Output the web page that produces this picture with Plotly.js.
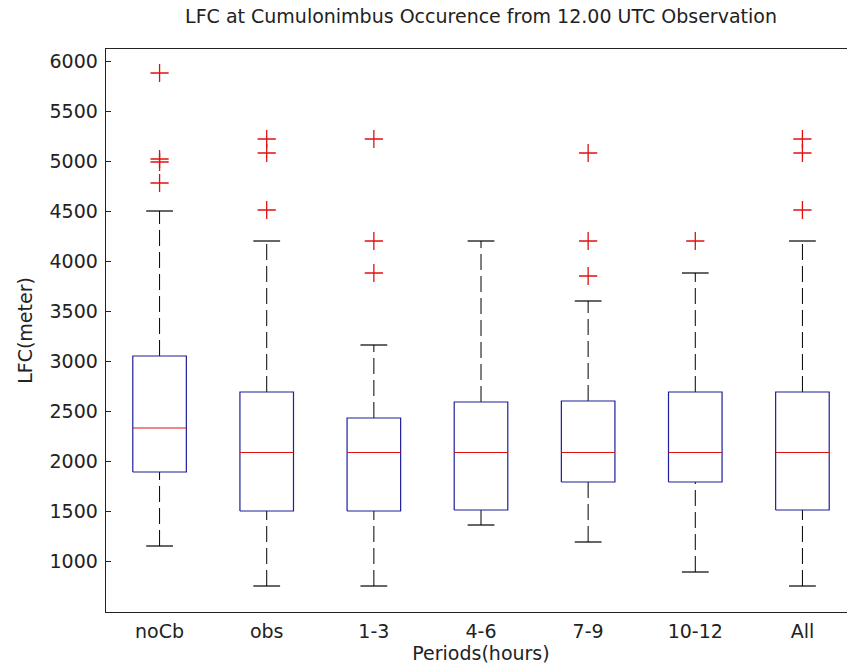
<!DOCTYPE html>
<html>
<head>
<meta charset="utf-8">
<script src="https://cdn.plot.ly/plotly-3.0.1.min.js"></script>
<style>
html,body{margin:0;padding:0;overflow:hidden;background:#fff;width:847px;height:670px;}
#chart{width:870px;height:670px;}
</style>
</head>
<body>
<div id="chart"></div>
<script>
const categories = ['noCb','obs','1-3','4-6','7-9','10-12','All'];
const lowerWhisker = [1150, 750, 750, 1360, 1190, 890, 750];
const q1 = [1890, 1500, 1500, 1510, 1790, 1790, 1510];
const medians = [2330, 2085, 2085, 2085, 2085, 2085, 2085];
const q3 = [3050, 2690, 2430, 2590, 2600, 2690, 2690];
const upperWhisker = [4500, 4200, 3160, 4200, 3600, 3880, 4200];
const outliers = [
  [5880, 5020, 4990, 4780],
  [5220, 5080, 4510],
  [5220, 4200, 3880],
  [],
  [5080, 4200, 3850],
  [4200],
  [5220, 5080, 4510]
];
const yTicks = [1000,1500,2000,2500,3000,3500,4000,4500,5000,5500,6000];

const boxHalf = 0.25, capHalf = 0.125;
const pos = categories.map((c,i)=>i+1);

const boxX=[], boxY=[], medX=[], medY=[], whX=[], whY=[], capX=[], capY=[], outX=[], outY=[];
pos.forEach((p,i)=>{
  boxX.push(p-boxHalf,p+boxHalf,p+boxHalf,p-boxHalf,p-boxHalf,null);
  boxY.push(q1[i],q1[i],q3[i],q3[i],q1[i],null);
  medX.push(p-boxHalf,p+boxHalf,null);
  medY.push(medians[i],medians[i],null);
  whX.push(p,p,null,p,p,null);
  whY.push(q3[i],upperWhisker[i],null,lowerWhisker[i],q1[i],null);
  capX.push(p-capHalf,p+capHalf,null,p-capHalf,p+capHalf,null);
  capY.push(upperWhisker[i],upperWhisker[i],null,lowerWhisker[i],lowerWhisker[i],null);
  outliers[i].forEach(v=>{outX.push(p);outY.push(v);});
});

const traces = [
  {x:whX,y:whY,mode:'lines',line:{color:'#000',width:1,dash:'16px,6px'},hoverinfo:'skip'},
  {x:capX,y:capY,mode:'lines',line:{color:'#000',width:1.2},hoverinfo:'skip'},
  {x:boxX,y:boxY,mode:'lines',line:{color:'#1f1f9a',width:1.2},hoverinfo:'skip'},
  {x:medX,y:medY,mode:'lines',line:{color:'#e01010',width:1.2},hoverinfo:'skip'},
  {x:outX,y:outY,mode:'markers',marker:{symbol:'cross-thin',size:13,line:{color:'#e01010',width:1.3}},hoverinfo:'skip'}
];

const fam = 'DejaVu Sans, sans-serif';
const fs = 19;
const font = {family:fam, size:fs, color:'#222'};
const layout = {
  width:870, height:670,
  margin:{l:106, r:14, t:49, b:58},
  paper_bgcolor:'#fff', plot_bgcolor:'#fff',
  showlegend:false,
  font:font,
  title:{text:'LFC at Cumulonimbus Occurence from 12.00 UTC Observation', font:{family:fam,size:fs,color:'#222'}, x:0.5529, xanchor:'center', y:0.975, yanchor:'middle'},
  xaxis:{range:[0.5,7.5], tickvals:pos, ticktext:categories, ticks:'', showgrid:false, zeroline:false,
    showline:true, mirror:true, linecolor:'#222', linewidth:1.3, ticklabelstandoff:2,
    title:{text:'Periods(hours)', standoff:2, font:{size:fs}}, tickfont:{size:fs}},
  yaxis:{range:[490,6120], tickvals:yTicks, ticktext:yTicks.map(String), ticks:'inside', ticklen:5, tickcolor:'#222',
    showgrid:false, zeroline:false, showline:true, mirror:true, linecolor:'#222', linewidth:1.3, ticklabelstandoff:3,
    title:{text:'LFC(meter)', standoff:12, font:{size:fs}}, tickfont:{size:fs}}
};
Plotly.newPlot('chart', traces, layout, {staticPlot:true, displayModeBar:false});
</script>
</body>
</html>
